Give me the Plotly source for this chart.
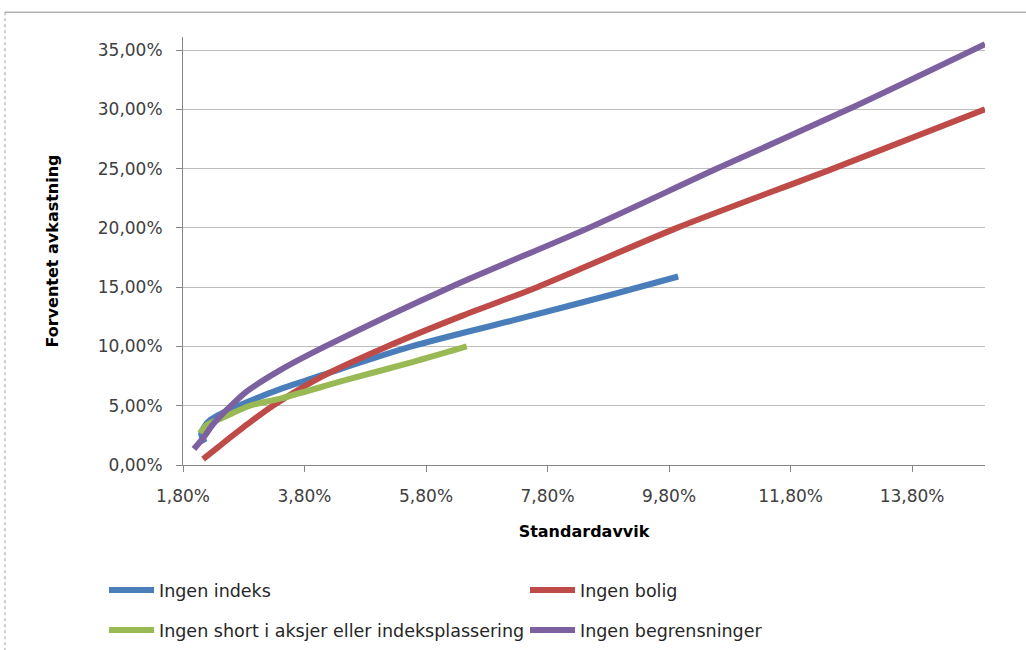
import plotly.graph_objects as go

# Efficient frontiers: standard deviation (%) vs expected return (%)
indeks_sd = [2.16, 2.10, 2.16, 2.25, 2.45, 2.85, 3.40, 4.10, 5.56, 7.23, 8.88, 9.95]
indeks_ret = [1.9, 2.6, 3.3, 3.8, 4.4, 5.3, 6.4, 7.6, 10.0, 12.2, 14.4, 15.9]

bolig_sd = [2.13, 2.40, 2.85, 3.28, 4.10, 5.16, 6.40, 7.63, 9.93, 12.50, 15.00]
bolig_ret = [0.5, 1.6, 3.4, 5.0, 7.5, 10.0, 12.6, 15.0, 20.0, 25.0, 30.0]

short_sd = [2.08, 2.20, 2.46, 2.90, 3.40, 4.50, 5.59, 6.47]
short_ret = [2.7, 3.4, 4.0, 5.0, 5.6, 7.2, 8.7, 10.0]

fri_sd = [1.98, 2.15, 2.29, 2.45, 2.57, 2.85, 3.40, 4.14, 6.20, 8.48, 10.59, 12.75, 15.00]
fri_ret = [1.35, 2.4, 3.4, 4.3, 4.9, 6.2, 8.0, 10.0, 15.0, 20.0, 25.0, 30.0, 35.5]

# (name, x, y, colour, legend row)
series = [
    ("Ingen indeks", indeks_sd, indeks_ret, "#4A7EBB", "legend"),
    ("Ingen bolig", bolig_sd, bolig_ret, "#BE4B48", "legend"),
    ("Ingen short i aksjer eller indeksplassering", short_sd, short_ret, "#98B954", "legend2"),
    ("Ingen begrensninger", fri_sd, fri_ret, "#7D60A0", "legend2"),
]

x_ticks = [1.8, 3.8, 5.8, 7.8, 9.8, 11.8, 13.8]
y_ticks = [0, 5, 10, 15, 20, 25, 30, 35]

fig = go.Figure()
for name, xs, ys, col, leg in series:
    fig.add_trace(go.Scatter(
        x=xs, y=ys, name=name, mode="lines", legend=leg,
        line=dict(color=col, width=6, shape="spline", smoothing=0.8),
    ))

tick_font = dict(family="DejaVu Sans", size=17, color="#404040")
title_font = dict(family="DejaVu Sans", size=16, color="#000000", weight="bold")
legend_style = dict(
    orientation="h", xanchor="left", yanchor="top",
    entrywidth=361, entrywidthmode="pixels",
    font=dict(family="DejaVu Sans", size=17.5, color="#262626"),
    itemwidth=45, bgcolor="rgba(0,0,0,0)",
)

fig.update_layout(
    width=1026, height=650,
    margin=dict(l=183, r=41, t=37, b=185, autoexpand=False),
    paper_bgcolor="white", plot_bgcolor="white",
    separators=", ",
    showlegend=True,
    legend=dict(x=-0.0985, y=-0.25, **legend_style),
    legend2=dict(x=-0.0985, y=-0.3435, **legend_style),
    xaxis=dict(
        range=[1.8, 15.0], tickmode="array", tickvals=x_ticks,
        ticktext=[f"{v:.2f}%".replace(".", ",") for v in x_ticks],
        showgrid=False, zeroline=False,
        showline=True, linecolor="#868686", linewidth=1,
        ticks="outside", ticklen=6, tickcolor="#868686",
        tickfont=tick_font, ticklabelstandoff=10,
        title=dict(text="Standardavvik", font=title_font, standoff=20),
    ),
    yaxis=dict(
        range=[0, 36.1], tickmode="array", tickvals=y_ticks,
        ticktext=[f"{v:.2f}%".replace(".", ",") for v in y_ticks],
        showgrid=True, gridcolor="#BEBEBE", gridwidth=1, zeroline=False,
        showline=True, linecolor="#868686", linewidth=1,
        ticks="outside", ticklen=6, tickcolor="#868686",
        tickfont=tick_font, ticklabelstandoff=10,
        title=dict(text="Forventet avkastning", font=title_font, standoff=35),
    ),
    shapes=[
        dict(type="line", xref="paper", yref="paper", x0=-0.222, x1=1.06,
             y0=1.058, y1=1.058, line=dict(color="#8C8C8C", width=1)),
        dict(type="line", xref="paper", yref="paper", x0=-0.222, x1=-0.222,
             y0=1.058, y1=-0.5, line=dict(color="#A0A0A0", width=1, dash="dot")),
    ],
)

fig.write_html("out.html")
